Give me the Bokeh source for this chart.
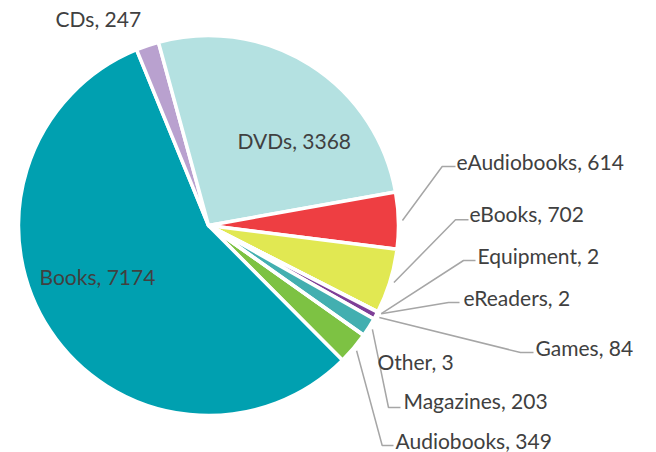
import numpy as np
from bokeh.plotting import figure
from bokeh.models import ColumnDataSource, Range1d
from bokeh.embed import file_html
from bokeh.resources import INLINE
from bokeh.core.properties import value

# ---- data ----
categories = ["Audiobooks", "Books", "CDs", "DVDs", "eAudiobooks", "eBooks",
              "Equipment", "eReaders", "Games", "Magazines", "Other"]
counts = [349, 7174, 247, 3368, 614, 702, 2, 2, 84, 203, 3]

# ---- styles / layout ----
colors = ["#7DC243", "#00A0B0", "#B9A1CF", "#B4E1E1", "#EE3E42", "#E1E852",
          "#8E6BB0", "#7E3F98", "#7E3F98", "#43AFB0", "#9BBB59"]
first_slice_angle = 125.3          # degrees clockwise from 12 o'clock
cx, cy_img, radius = 208, 225, 190
W, H = 656, 452

# label anchor (image px) and optional leader elbow (x, y, end_x)
label_pos = {
    "Audiobooks": (395, 440, (381.7, 445, 393)),
    "Books": (39, 276, None),
    "CDs": (55, 18, None),
    "DVDs": (237, 140, None),
    "eAudiobooks": (456, 161, (441.7, 166, 455)),
    "eBooks": (469, 213, (455, 219.3, 468)),
    "Equipment": (477, 255, (463, 260, 475)),
    "eReaders": (463, 297, (448, 302, 459)),
    "Games": (535, 347, (520, 352, 533)),
    "Magazines": (403, 400, (388, 407, 400)),
    "Other": (377, 361, None),
}

def Y(yimg):
    return 452 - yimg

total = float(sum(counts))
spans = np.array(counts) / total * 360.0
ends_cw = first_slice_angle + np.cumsum(spans)
starts_cw = ends_cw - spans
mids_cw = (starts_cw + ends_cw) / 2

src = ColumnDataSource(dict(
    start=list(90 - starts_cw), end=list(90 - ends_cw), color=colors,
))

p = figure(width=W, height=H, output_backend="svg", toolbar_location=None,
           x_range=Range1d(0, W), y_range=Range1d(452 - H, 452),
           min_border=0, outline_line_color=None, background_fill_color="white")
p.axis.visible = False
p.grid.visible = False

p.wedge(x=cx, y=Y(cy_img), radius=radius, start_angle="start", end_angle="end",
        direction="clock", start_angle_units="deg", end_angle_units="deg",
        fill_color="color", line_color="white", line_width=3.5, source=src)

# leaders and labels
lx, ly, tx, ty, tt = [], [], [], [], []
for i, name in enumerate(categories):
    x, y, lead = label_pos[name]
    tx.append(x); ty.append(Y(y)); tt.append(f"{name}, {counts[i]}")
    if lead is not None:
        a = np.radians(mids_cw[i])
        sx = cx + 194 * np.sin(a)
        sy = cy_img - 194 * np.cos(a)
        ex, ey, endx = lead
        lx.append([sx, ex, endx]); ly.append([Y(sy), Y(ey), Y(ey)])

p.multi_line(xs=lx, ys=ly, line_color="#A6A6A6", line_width=1.5)
p.text(x=tx, y=ty, text=tt, text_align="left", text_baseline="middle",
       text_font=value("Lato"), text_font_size="21px", text_color="#404040")

open("out.html", "w").write(file_html(p, INLINE))
